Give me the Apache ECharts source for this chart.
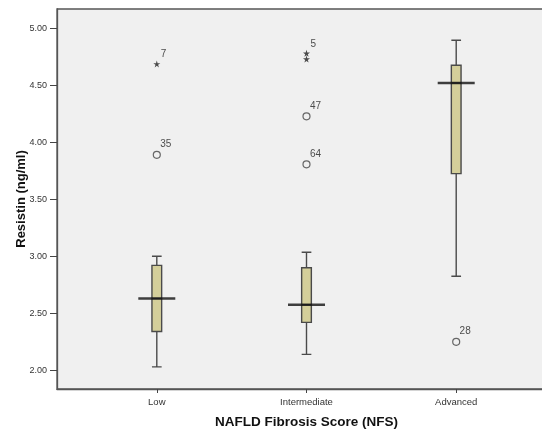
<!DOCTYPE html>
<html>
<head>
<meta charset="utf-8">
<script src="https://cdn.jsdelivr.net/npm/echarts@6/dist/echarts.min.js"></script>
<style>
  html, body { margin: 0; padding: 0; background: #fff; }
  #main { width: 542px; height: 430px; }
</style>
</head>
<body>
<div id="main"></div>
<script>
// categories and their positions on the x axis
var categories = ['Low', 'Intermediate', 'Advanced'];
var catPos = [1, 2, 3];

// box statistics per group (ng/ml)
var whiskerLow = [2.03, 2.14, 2.825];
var q1 = [2.34, 2.42, 3.725];
var median = [2.63, 2.575, 4.52];
var q3 = [2.92, 2.90, 4.675];
var whiskerHigh = [3.00, 3.035, 4.895];

// outliers (circles)
var outlierCat = [1, 2, 2, 3];
var outlierVal = [3.89, 4.228, 3.807, 2.25];
var outlierId = ['35', '47', '64', '28'];

// extreme values (stars)
var extremeCat = [1, 2, 2];
var extremeVal = [4.687, 4.78, 4.73];
var extremeId = ['7', '5', ''];

// y tick labels
var yTicks = [2.0, 2.5, 3.0, 3.5, 4.0, 4.5, 5.0];

(function () {
    var myChart = echarts.init(document.getElementById('main'));
    var font = 'Liberation Sans, Arial, sans-serif';
    var star = 'path://M50,0 L61,35 L98,35 L68,57 L79,91 L50,70 L21,91 L32,57 L2,35 L39,35 Z';

    var boxData = catPos.map(function (x, i) {
        return [x, whiskerLow[i], q1[i], median[i], q3[i], whiskerHigh[i]];
    });
    var medianData = catPos.map(function (x, i) { return [x, median[i]]; });
    var outlierData = outlierCat.map(function (c, i) {
        return { value: [c, outlierVal[i]], name: outlierId[i] };
    });
    var extremeData = extremeCat.map(function (c, i) {
        return { value: [c, extremeVal[i]], name: extremeId[i] };
    });

    var pointLabel = {
        show: true,
        formatter: '{b}',
        position: [7.5, -11],
        align: 'left',
        verticalAlign: 'top',
        fontFamily: font,
        fontSize: 10,
        color: '#222'
    };

    var option = {
        animation: false,
        backgroundColor: '#fff',
        grid: {
            left: 57, top: 9, width: 499, height: 380,
            outerBoundsMode: 'none',
            containLabel: false,
            show: true,
            backgroundColor: '#f0f0f0',
            borderColor: '#555',
            borderWidth: 1.3
        },
        xAxis: {
            type: 'value',
            min: 1 / 3,
            max: 11 / 3,
            name: 'NAFLD Fibrosis Score (NFS)',
            nameLocation: 'middle',
            nameGap: 26,
            nameMoveOverlap: false,
            nameTextStyle: { fontFamily: font, fontSize: 13.5, fontWeight: 'bold', color: '#111' },
            axisLine: { show: true, lineStyle: { color: '#555', width: 1.3 } },
            axisTick: { show: true, length: 4, customValues: catPos, lineStyle: { color: '#444' } },
            axisLabel: {
                customValues: catPos,
                margin: 8,
                fontFamily: font,
                fontSize: 9.5,
                color: '#333',
                formatter: function (v) { return categories[Math.round(v) - 1] || ''; }
            },
            splitLine: { show: false }
        },
        yAxis: {
            type: 'value',
            min: 1.836,
            max: 5.169,
            name: 'Resistin (ng/ml)',
            nameLocation: 'middle',
            nameGap: 29,
            nameMoveOverlap: false,
            nameTextStyle: { fontFamily: font, fontSize: 13, fontWeight: 'bold', color: '#111' },
            axisLine: { show: true, lineStyle: { color: '#555', width: 1.3 } },
            axisTick: { show: true, length: 7, customValues: yTicks, lineStyle: { color: '#444' } },
            axisLabel: {
                customValues: yTicks,
                margin: 10,
                fontFamily: font,
                fontSize: 9,
                color: '#333',
                formatter: function (v) { return v.toFixed(2); }
            },
            splitLine: { show: false }
        },
        series: [
            {
                type: 'boxplot',
                layout: 'horizontal',
                boxWidth: [9.7, 9.7],
                data: boxData,
                itemStyle: { color: '#d4cf9a', borderColor: '#4a4a4a', borderWidth: 1.4 }
            },
            {
                type: 'scatter',
                data: medianData,
                symbol: 'rect',
                symbolSize: [37, 2.6],
                itemStyle: { color: '#111' },
                z: 5
            },
            {
                type: 'scatter',
                data: outlierData,
                symbol: 'circle',
                symbolSize: 7,
                itemStyle: { color: 'rgba(0,0,0,0)', borderColor: '#444', borderWidth: 1.2 },
                label: pointLabel,
                z: 5
            },
            {
                type: 'scatter',
                data: extremeData,
                symbol: star,
                symbolSize: 7,
                itemStyle: { color: '#222' },
                label: pointLabel,
                z: 5
            }
        ]
    };

    myChart.setOption(option);
}).call(this);
</script>
</body>
</html>
